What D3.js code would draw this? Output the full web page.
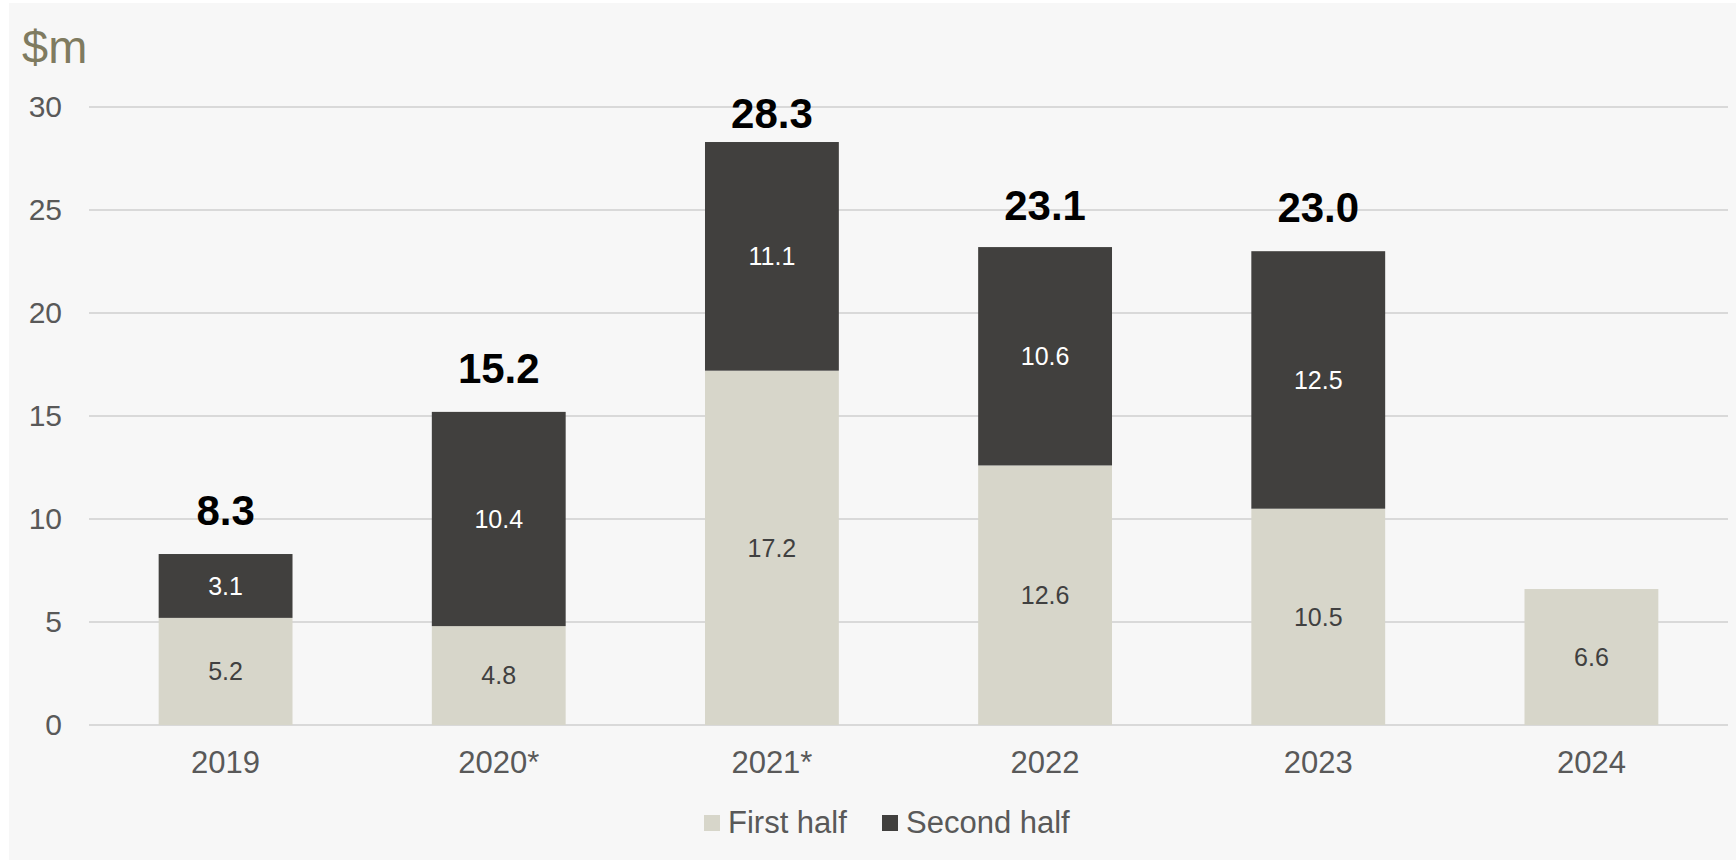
<!DOCTYPE html>
<html>
<head>
<meta charset="utf-8">
<script src="https://cdn.jsdelivr.net/npm/d3@7"></script>
<style>
  html, body { margin: 0; padding: 0; background: #ffffff; }
  svg { display: block; font-family: "Liberation Sans", Arial, sans-serif; }
</style>
</head>
<body>
<svg id="chart" width="1736" height="860"></svg>
<script>
// Half-year figures, $m
const years = ["2019", "2020*", "2021*", "2022", "2023", "2024"];
const firstHalf = [5.2, 4.8, 17.2, 12.6, 10.5, 6.6];
const secondHalf = [3.1, 10.4, 11.1, 10.6, 12.5, null];
const totals = [8.3, 15.2, 28.3, 23.1, 23.0, null];
const yTicks = [0, 5, 10, 15, 20, 25, 30];
const seriesNames = ["First half", "Second half"];

const colors = { first: "#d7d6ca", second: "#41403e" };

const W = 1736, H = 860;
const margin = { left: 89, right: 8, top: 107, bottom: 135 };

const svg = d3.select("#chart");

// panel background
svg.append("rect")
  .attr("x", 9).attr("y", 3)
  .attr("width", W - 9).attr("height", H - 3)
  .attr("fill", "#f7f7f7");

const x = d3.scaleBand()
  .domain(years)
  .range([margin.left, W - margin.right])
  .paddingInner(0.51)
  .paddingOuter(0.255);

const y = d3.scaleLinear()
  .domain([0, 30])
  .range([H - margin.bottom, margin.top]);

// gridlines
svg.append("g")
  .selectAll("line")
  .data(yTicks)
  .join("line")
  .attr("x1", margin.left)
  .attr("x2", W - margin.right)
  .attr("y1", d => y(d))
  .attr("y2", d => y(d))
  .attr("stroke", "#d9d9d9")
  .attr("stroke-width", 2);

// y axis labels
const yAxis = d3.axisLeft(y).tickValues(yTicks).tickSize(0).tickPadding(0);
const gy = svg.append("g")
  .attr("transform", `translate(${62},0)`)
  .call(yAxis);
gy.select(".domain").remove();
gy.selectAll("text")
  .attr("font-size", 30)
  .attr("fill", "#595959")
  .attr("font-family", "Liberation Sans, Arial, sans-serif");

// unit label
svg.append("text")
  .attr("x", 22).attr("y", 63)
  .attr("font-size", 47)
  .attr("fill", "#7f7b60")
  .text("$m");

// stacked data
const rows = years.map((yr, i) => ({
  year: yr,
  first: firstHalf[i],
  second: secondHalf[i] == null ? 0 : secondHalf[i],
  total: totals[i],
  hasSecond: secondHalf[i] != null
}));
const stack = d3.stack().keys(["first", "second"]);
const layers = stack(rows);

const bars = svg.append("g");
layers.forEach(layer => {
  bars.append("g")
    .selectAll("rect")
    .data(layer.filter(d => d[1] > d[0]))
    .join("rect")
    .attr("x", d => x(d.data.year))
    .attr("width", x.bandwidth())
    .attr("y", d => y(d[1]))
    .attr("height", d => y(d[0]) - y(d[1]))
    .attr("fill", colors[layer.key]);
});

// segment value labels
layers.forEach(layer => {
  svg.append("g")
    .selectAll("text")
    .data(layer.filter(d => d[1] > d[0]))
    .join("text")
    .attr("x", d => x(d.data.year) + x.bandwidth() / 2)
    .attr("y", d => y((d[0] + d[1]) / 2))
    .attr("dy", "0.35em")
    .attr("text-anchor", "middle")
    .attr("font-size", 25)
    .attr("fill", layer.key === "first" ? "#404040" : "#ffffff")
    .text(d => (d[1] - d[0]).toFixed(1));
});

// totals above bars, kept inside the plot area
svg.append("g")
  .selectAll("text")
  .data(rows.filter(d => d.total != null))
  .join("text")
  .attr("x", d => x(d.year) + x.bandwidth() / 2)
  .attr("y", d => Math.max(y(d.total) - 29, y(30) + 21))
  .attr("text-anchor", "middle")
  .attr("font-size", 42)
  .attr("font-weight", "bold")
  .attr("fill", "#000000")
  .text(d => d.total.toFixed(1));

// x axis labels
const xAxis = d3.axisBottom(x).tickSize(0).tickPadding(0);
const gx = svg.append("g")
  .attr("transform", `translate(0,${y(0) + 26})`)
  .call(xAxis);
gx.select(".domain").remove();
gx.selectAll("text")
  .attr("font-size", 31)
  .attr("fill", "#595959")
  .attr("font-family", "Liberation Sans, Arial, sans-serif");

// legend
const legend = svg.append("g");
const legendItems = [
  { name: seriesNames[0], color: colors.first, x: 704 },
  { name: seriesNames[1], color: colors.second, x: 882 }
];
legendItems.forEach(item => {
  legend.append("rect")
    .attr("x", item.x).attr("y", 815)
    .attr("width", 16).attr("height", 16)
    .attr("fill", item.color);
  legend.append("text")
    .attr("x", item.x + 24).attr("y", 833)
    .attr("font-size", 31)
    .attr("fill", "#595959")
    .text(item.name);
});
</script>
</body>
</html>
